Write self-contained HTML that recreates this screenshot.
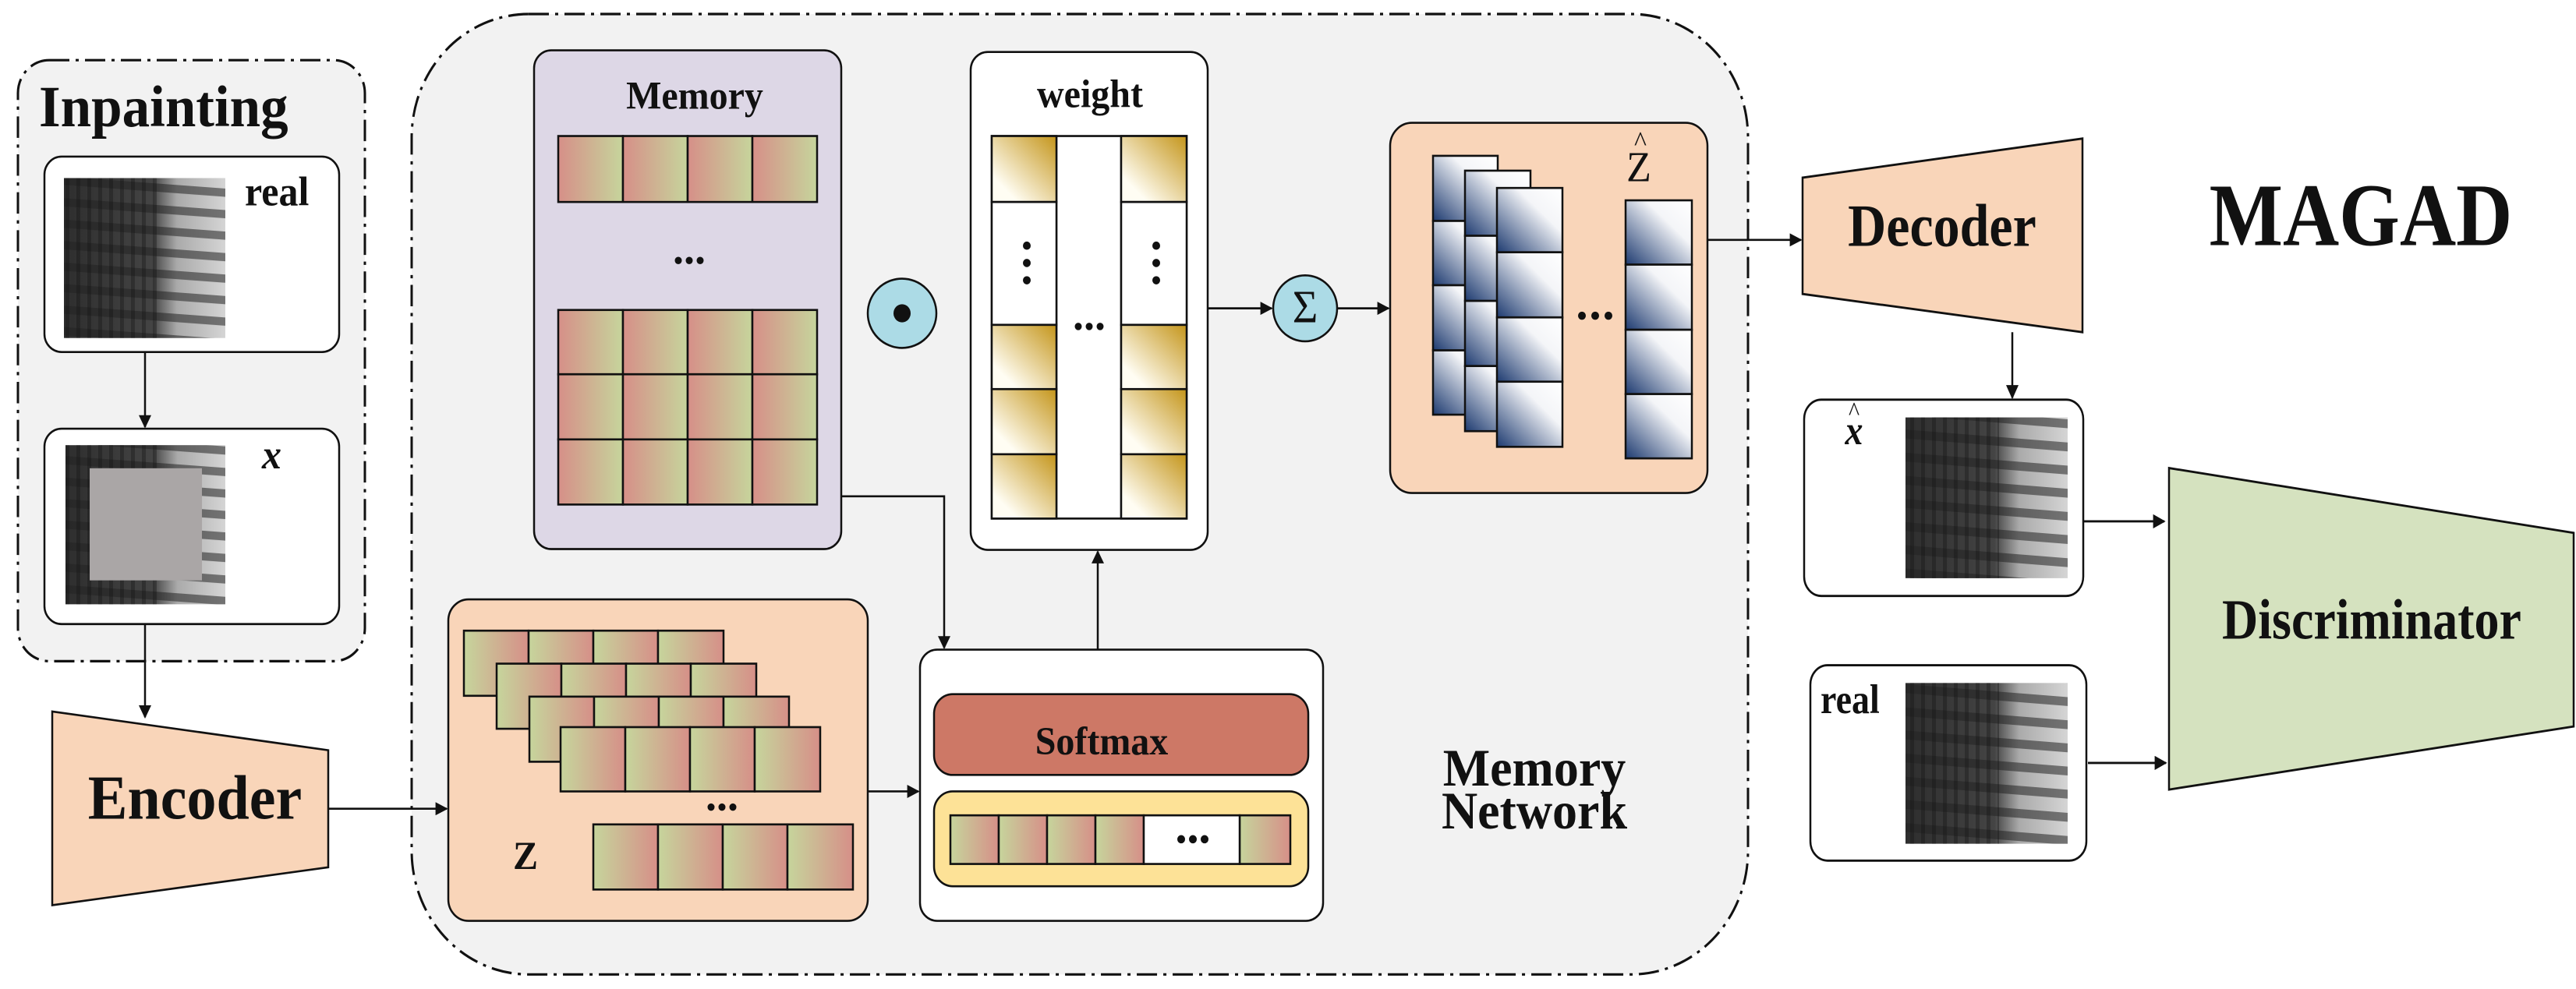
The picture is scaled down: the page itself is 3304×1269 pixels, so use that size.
<!DOCTYPE html>
<html><head><meta charset="utf-8"><style>html,body{margin:0;padding:0;background:#fff}svg{display:block}</style></head>
<body>
<svg xmlns="http://www.w3.org/2000/svg" width="3304" height="1269" viewBox="0 0 3304 1269" font-family="Liberation Serif, serif" font-weight="bold">
<defs>
<linearGradient id="rg" x1="0" y1="0" x2="1" y2="0"><stop offset="0" stop-color="#d68f88"/><stop offset="1" stop-color="#c6d59c"/></linearGradient>
<linearGradient id="gr" x1="0" y1="0" x2="1" y2="0"><stop offset="0" stop-color="#c6d59c"/><stop offset="1" stop-color="#d68f88"/></linearGradient>
<linearGradient id="gold" x1="0" y1="1" x2="1" y2="0"><stop offset="0.2" stop-color="#fffdf3"/><stop offset="1" stop-color="#c4951a"/></linearGradient>
<linearGradient id="blue" x1="0" y1="1" x2="1" y2="0"><stop offset="0" stop-color="#1d3a70"/><stop offset="0.65" stop-color="#f4f5f8"/><stop offset="1" stop-color="#ffffff"/></linearGradient>
<linearGradient id="img" x1="0" y1="0" x2="1" y2="0"><stop offset="0" stop-color="#2e2e2e"/><stop offset="0.55" stop-color="#444"/><stop offset="0.7" stop-color="#aaa"/><stop offset="1" stop-color="#d5d5d5"/></linearGradient>
<pattern id="hs" width="10" height="26" patternUnits="userSpaceOnUse" patternTransform="rotate(4)"><rect width="10" height="10" fill="#222" opacity="0.55"/></pattern>
<pattern id="vs" width="14" height="10" patternUnits="userSpaceOnUse"><rect width="5" height="10" fill="#111" opacity="0.35"/></pattern>
<marker id="ab" viewBox="0 0 10 10" markerWidth="20" markerHeight="16" refX="9" refY="5" orient="auto" markerUnits="userSpaceOnUse"><path d="M0,0 L10,5 L0,10 Z" fill="#111"/></marker>
</defs>

<g transform="scale(1,1.0578)">
<g stroke="#111" stroke-width="2.5">
<rect x="23" y="73" width="445" height="729" rx="40" fill="#f2f2f2" stroke-width="3" stroke-dasharray="26 8 4 8"/>
<rect x="528" y="17" width="1714" height="1165" rx="150" fill="#f2f2f2" stroke-width="3" stroke-dasharray="26 8 4 8"/>
<rect x="57" y="190" width="378" height="237" rx="22" fill="#fff"/>
<rect x="57" y="520" width="378" height="237" rx="22" fill="#fff"/>
</g>
<g stroke="none">
<rect x="82" y="216" width="207" height="194" fill="url(#img)"/><rect x="82" y="216" width="207" height="194" fill="url(#hs)"/><rect x="82" y="216" width="120" height="194" fill="url(#vs)"/>
<rect x="84" y="540" width="205" height="193" fill="url(#img)"/><rect x="84" y="540" width="205" height="193" fill="url(#hs)"/><rect x="84" y="540" width="120" height="193" fill="url(#vs)"/>
<rect x="115" y="568" width="144" height="136" fill="#aaa6a6"/>
</g>
<g stroke="#111" stroke-width="2.5">
<polygon points="67,863 421,910 421,1052 67,1098" fill="#f9d5b9"/>
<rect x="685" y="61" width="394" height="605" rx="22" fill="#ddd7e6"/>
<g fill="url(#rg)">
<rect x="716" y="165" width="83" height="80"/><rect x="799" y="165" width="83" height="80"/><rect x="882" y="165" width="83" height="80"/><rect x="965" y="165" width="83" height="80"/>
<rect x="716" y="376" width="83" height="78"/><rect x="799" y="376" width="83" height="78"/><rect x="882" y="376" width="83" height="78"/><rect x="965" y="376" width="83" height="78"/>
<rect x="716" y="454" width="83" height="79"/><rect x="799" y="454" width="83" height="79"/><rect x="882" y="454" width="83" height="79"/><rect x="965" y="454" width="83" height="79"/>
<rect x="716" y="533" width="83" height="79"/><rect x="799" y="533" width="83" height="79"/><rect x="882" y="533" width="83" height="79"/><rect x="965" y="533" width="83" height="79"/>
</g>
<ellipse cx="1157" cy="380" rx="44" ry="42" fill="#acdbe6"/>
<rect x="1245" y="63" width="304" height="604" rx="22" fill="#fff"/>
<rect x="1272" y="165" width="250" height="464" fill="#fff"/>
<line x1="1355" y1="165" x2="1355" y2="629"/><line x1="1438" y1="165" x2="1438" y2="629"/>
<g fill="url(#gold)">
<rect x="1272" y="165" width="83" height="80"/><rect x="1438" y="165" width="84" height="80"/>
<rect x="1272" y="394" width="83" height="78"/><rect x="1438" y="394" width="84" height="78"/>
<rect x="1272" y="472" width="83" height="79"/><rect x="1438" y="472" width="84" height="79"/>
<rect x="1272" y="551" width="83" height="78"/><rect x="1438" y="551" width="84" height="78"/>
</g>
<rect x="1272" y="245" width="83" height="149" fill="#fff"/><rect x="1438" y="245" width="84" height="149" fill="#fff"/>
<ellipse cx="1674" cy="374" rx="41" ry="40" fill="#acdbe6"/>
<rect x="1783" y="149" width="407" height="449" rx="28" fill="#f9d5b9"/>
<g fill="url(#blue)">
<rect x="1838" y="189" width="83" height="79"/><rect x="1838" y="268" width="83" height="78"/><rect x="1838" y="346" width="83" height="79"/><rect x="1838" y="425" width="83" height="78"/>
<rect x="1879" y="207" width="84" height="79"/><rect x="1879" y="286" width="84" height="79"/><rect x="1879" y="365" width="84" height="79"/><rect x="1879" y="444" width="84" height="79"/>
<rect x="1920" y="228" width="84" height="78"/><rect x="1920" y="306" width="84" height="79"/><rect x="1920" y="385" width="84" height="78"/><rect x="1920" y="463" width="84" height="79"/>
<rect x="2085" y="243" width="85" height="78"/><rect x="2085" y="321" width="85" height="79"/><rect x="2085" y="400" width="85" height="78"/><rect x="2085" y="478" width="85" height="78"/>
</g>
<rect x="575" y="727" width="538" height="390" rx="26" fill="#f9d5b9"/>
<g fill="url(#gr)">
<rect x="595" y="765" width="83" height="79"/><rect x="678" y="765" width="83" height="79"/><rect x="761" y="765" width="83" height="79"/><rect x="844" y="765" width="84" height="79"/>
<rect x="637" y="805" width="83" height="79"/><rect x="720" y="805" width="83" height="79"/><rect x="803" y="805" width="83" height="79"/><rect x="886" y="805" width="84" height="79"/>
<rect x="679" y="845" width="83" height="79"/><rect x="762" y="845" width="83" height="79"/><rect x="845" y="845" width="83" height="79"/><rect x="928" y="845" width="84" height="79"/>
<rect x="719" y="882" width="83" height="78"/><rect x="802" y="882" width="83" height="78"/><rect x="885" y="882" width="83" height="78"/><rect x="968" y="882" width="84" height="78"/>
<rect x="761" y="1000" width="83" height="79"/><rect x="844" y="1000" width="83" height="79"/><rect x="927" y="1000" width="83" height="79"/><rect x="1010" y="1000" width="84" height="79"/>
</g>
<rect x="1180" y="788" width="517" height="329" rx="22" fill="#fff"/>
<rect x="1198" y="842" width="480" height="98" rx="24" fill="#cd7866"/>
<rect x="1198" y="960" width="480" height="115" rx="24" fill="#fde297"/>
<g fill="url(#gr)">
<rect x="1219" y="989" width="62" height="59"/><rect x="1281" y="989" width="62" height="59"/><rect x="1343" y="989" width="62" height="59"/><rect x="1405" y="989" width="62" height="59"/><rect x="1590" y="989" width="65" height="59"/>
</g>
<rect x="1467" y="989" width="123" height="59" fill="#fff"/>
</g>
<g stroke="#111" stroke-width="2.5" fill="none">
<line x1="186" y1="427" x2="186" y2="518" marker-end="url(#ab)"/>
<line x1="186" y1="757" x2="186" y2="870" marker-end="url(#ab)"/>
<line x1="421" y1="981" x2="573" y2="981" marker-end="url(#ab)"/>
<polyline points="1079,602 1211,602 1211,786" marker-end="url(#ab)"/>
<line x1="1113" y1="960" x2="1178" y2="960" marker-end="url(#ab)"/>
<line x1="1408" y1="787" x2="1408" y2="669" marker-end="url(#ab)"/>
<line x1="1549" y1="374" x2="1631" y2="374" marker-end="url(#ab)"/>
<line x1="1715" y1="374" x2="1781" y2="374" marker-end="url(#ab)"/>
<line x1="2190" y1="291" x2="2310" y2="291" marker-end="url(#ab)"/>
</g>
<g fill="#111">
<circle cx="1157" cy="380" r="11"/>
<circle cx="1317" cy="298" r="5"/><circle cx="1317" cy="319" r="5"/><circle cx="1317" cy="340" r="5"/>
<circle cx="1483" cy="298" r="5"/><circle cx="1483" cy="319" r="5"/><circle cx="1483" cy="340" r="5"/>
<circle cx="1383" cy="396" r="4.5"/><circle cx="1397" cy="396" r="4.5"/><circle cx="1411" cy="396" r="4.5"/>
<circle cx="870" cy="316" r="4.5"/><circle cx="884" cy="316" r="4.5"/><circle cx="898" cy="316" r="4.5"/>
<circle cx="912" cy="979" r="4.5"/><circle cx="926" cy="979" r="4.5"/><circle cx="940" cy="979" r="4.5"/>
<circle cx="2029" cy="383" r="5"/><circle cx="2046" cy="383" r="5"/><circle cx="2063" cy="383" r="5"/>
<circle cx="1515" cy="1018" r="5"/><circle cx="1530" cy="1018" r="5"/><circle cx="1545" cy="1018" r="5"/>
</g>
<g fill="#111">
<text x="50" y="153" font-size="71">Inpainting</text>
<text x="314" y="249" font-size="50">real</text>
<text x="336" y="568" font-size="50" font-style="italic">x</text>
<text x="250" y="993" font-size="76" text-anchor="middle">Encoder</text>
<text x="891" y="132" font-size="48" text-anchor="middle">Memory</text>
<text x="1398" y="130" font-size="48" text-anchor="middle">weight</text>
<text x="1674" y="391" font-size="56" font-weight="normal" text-anchor="middle">Σ</text>
<text x="2102" y="220" font-size="52" font-weight="normal" text-anchor="middle">Z</text>
<text x="2104" y="183" font-size="34" font-weight="normal" text-anchor="middle">^</text>
<text x="658" y="1054" font-size="48">Z</text>
<text x="1413" y="915" font-size="48" text-anchor="middle">Softmax</text>
<text x="1968" y="953" font-size="64" text-anchor="middle">Memory</text>
<text x="1968" y="1005" font-size="64" text-anchor="middle">Network</text>
</g>
</g>

<g transform="scale(1,1.1396)">
<g stroke="#111" stroke-width="2.5">
<rect x="2314" y="450" width="358" height="221" rx="22" fill="#fff"/>
<rect x="2322" y="749" width="354" height="220" rx="22" fill="#fff"/>
</g>
<g stroke="none">
<rect x="2444" y="470" width="208" height="181" fill="url(#img)"/><rect x="2444" y="470" width="208" height="181" fill="url(#hs)"/><rect x="2444" y="470" width="120" height="181" fill="url(#vs)"/>
<rect x="2444" y="769" width="208" height="181" fill="url(#img)"/><rect x="2444" y="769" width="208" height="181" fill="url(#hs)"/><rect x="2444" y="769" width="120" height="181" fill="url(#vs)"/>
</g>
<g stroke="#111" stroke-width="2.5">
<polygon points="2312,200 2671,156 2671,374 2312,331" fill="#f9d5b9"/>
<polygon points="2782,527 3301,600 3301,818 2782,889" fill="#d5e2bf"/>
</g>
<g stroke="#111" stroke-width="2.5" fill="none">
<line x1="2581" y1="374" x2="2581" y2="448" marker-end="url(#ab)"/>
<line x1="2673" y1="587" x2="2776" y2="587" marker-end="url(#ab)"/>
<line x1="2678" y1="859" x2="2778" y2="859" marker-end="url(#ab)"/>
</g>
<g fill="#111">
<text x="2491" y="277" font-size="68" text-anchor="middle">Decoder</text>
<text x="3028" y="276" font-size="100" text-anchor="middle">MAGAD</text>
<text x="2378" y="500" font-size="46" font-style="italic" text-anchor="middle">x</text>
<text x="2378" y="473" font-size="30" font-weight="normal" text-anchor="middle">^</text>
<text x="2335" y="803" font-size="46">real</text>
<text x="3042" y="719" font-size="64" text-anchor="middle">Discriminator</text>
</g>
</g>
</svg>
</body></html>
